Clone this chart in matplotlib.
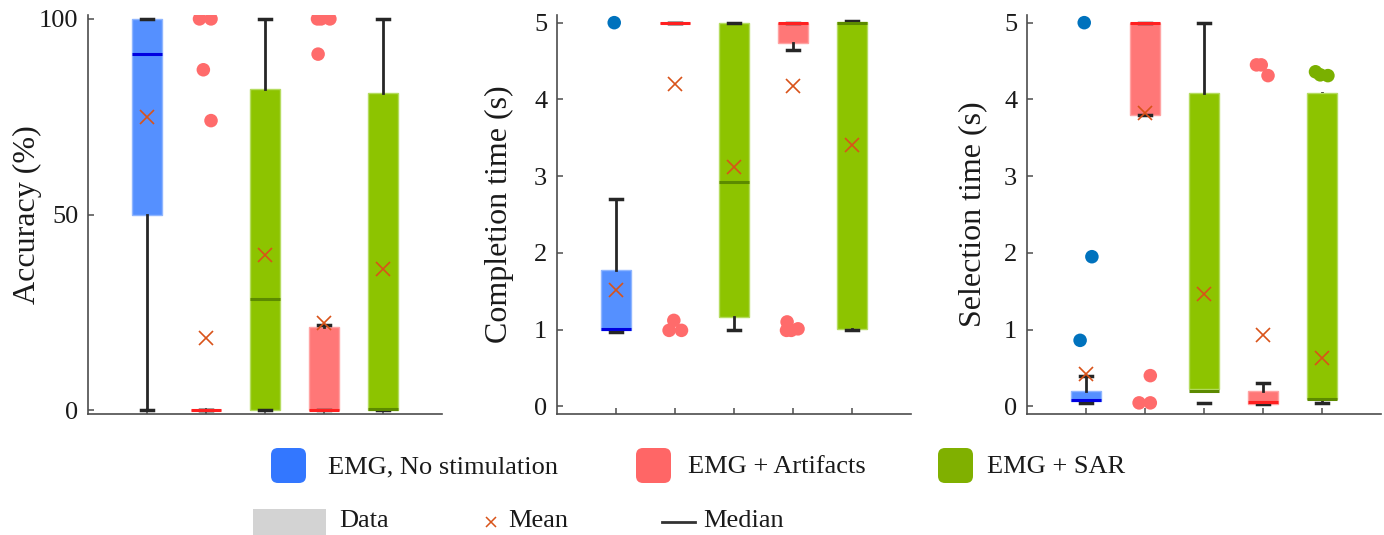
import matplotlib
matplotlib.use('Agg')
import matplotlib.pyplot as plt
from matplotlib.patches import FancyBboxPatch, Rectangle
from matplotlib.lines import Line2D

plt.rcParams['font.family'] = ['Liberation Serif', 'DejaVu Serif']

# groups in plotting order (1..5)
positions = [1, 2, 3, 4, 5]
group_of_box = [0, 1, 2, 1, 2]
legend_names = ['EMG, No stimulation', 'EMG + Artifacts', 'EMG + SAR']

# Accuracy (%)
acc_q1 = [50, 0, 0, 0, 0]
acc_med = [91, 0, 28.5, 0, 0.3]
acc_q3 = [100, 0, 82, 21.2, 81]
acc_lo = [0, 0, 0, 0, 0]
acc_hi = [100, 0, 100, 21.8, 100]
acc_mean = [75, 18.5, 39.6, 22.2, 36]
acc_fliers = [[], [100, 100, 87, 74], [], [100, 100, 100, 91], []]
acc_jitter = [[], [-0.11, 0.085, -0.045, 0.085], [], [-0.11, -0.05, 0.10, -0.10], []]

# Completion time (s)
ct_q1 = [1.0, 5.0, 1.17, 4.73, 1.01]
ct_med = [1.01, 5.0, 2.93, 5.0, 5.0]
ct_q3 = [1.78, 5.0, 4.99, 5.0, 5.01]
ct_lo = [0.97, 5.0, 1.0, 4.64, 0.99]
ct_hi = [2.70, 5.0, 5.0, 5.0, 5.02]
ct_mean = [1.51, 4.2, 3.12, 4.17, 3.41]
ct_fliers = [[5.0], [0.99, 1.12, 0.99], [], [0.99, 1.1, 1.01, 0.99], []]
ct_jitter = [[-0.03], [-0.10, -0.02, 0.11], [], [-0.11, -0.10, 0.085, -0.03], []]

# Selection time (s)
st_q1 = [0.065, 3.80, 0.23, 0.035, 0.09]
st_med = [0.08, 5.0, 0.20, 0.05, 0.09]
st_q3 = [0.2, 5.0, 4.08, 0.2, 4.08]
st_lo = [0.045, 3.80, 0.045, 0.035, 0.045]
st_hi = [0.40, 5.0, 5.0, 0.30, 4.0]
st_mean = [0.42, 3.82, 1.47, 0.93, 0.63]
st_fliers = [[5.0, 1.95, 0.86], [0.045, 0.045, 0.40], [], [4.45, 4.45, 4.31], [4.36, 4.32, 4.31]]
st_jitter = [[-0.03, 0.10, -0.10], [-0.10, 0.09, 0.09], [], [-0.11, -0.03, 0.085], [-0.11, -0.03, 0.10]]

box_colors = ['#5590FF', '#FF7777', '#8DC400']
box_edges = ['#8FB6FF', '#FFA3A3', '#B5DC60']
median_colors = ['#0000E0', '#FF2020', '#5C8A00']
flier_colors = ['#0072BD', '#FF6B6B', '#7AB000']
legend_colors = ['#3377FF', '#FF6666', '#80B000']
mean_color = '#D95319'

panels = [
    ('Accuracy (%)', acc_q1, acc_med, acc_q3, acc_lo, acc_hi, acc_mean, acc_fliers, acc_jitter,
     (-1, 101), [0, 50, 100]),
    ('Completion time (s)', ct_q1, ct_med, ct_q3, ct_lo, ct_hi, ct_mean, ct_fliers, ct_jitter,
     (-0.1, 5.1), [0, 1, 2, 3, 4, 5]),
    ('Selection time (s)', st_q1, st_med, st_q3, st_lo, st_hi, st_mean, st_fliers, st_jitter,
     (-0.1, 5.1), [0, 1, 2, 3, 4, 5]),
]

W, H = 1384, 535
fig = plt.figure(figsize=(W / 100, H / 100), dpi=100)

ax_left = [88, 557, 1027]
label_off = [-0.13, -0.122, -0.112]
for k, (ylabel, q1, med, q3, lo, hi, mean, fliers, jitter, ylim, yticks) in enumerate(panels):
    ax = fig.add_axes([ax_left[k] / W, (H - 414) / H, 354 / W, (414 - 15) / H])
    stats = []
    for i in range(5):
        stats.append(dict(med=med[i], q1=q1[i], q3=q3[i], whislo=lo[i], whishi=hi[i],
                          mean=mean[i], fliers=[]))
    bp = ax.bxp(stats, positions=positions, widths=0.5, patch_artist=True,
                showfliers=False, showmeans=True, capwidths=0.22, manage_ticks=False,
                whiskerprops=dict(color='#262626', lw=2),
                capprops=dict(color='#262626', lw=2.5),
                meanprops=dict(marker='x', markersize=10, markeredgewidth=1.2,
                               markeredgecolor=mean_color, linestyle='none'))
    for i in range(5):
        g = group_of_box[i]
        bp['boxes'][i].set_facecolor(box_colors[g])
        bp['boxes'][i].set_edgecolor(box_edges[g])
        bp['boxes'][i].set_linewidth(1.0)
        bp['medians'][i].set_color(median_colors[g])
        bp['medians'][i].set_linewidth(2.2)
        bp['medians'][i].set_zorder(2.5)
        bp['means'][i].set_zorder(4)
        if fliers[i]:
            xs = [positions[i] + j for j in jitter[i]]
            ax.scatter(xs, fliers[i], s=95, color=flier_colors[g], edgecolors='none', zorder=3)
    if k == 2:
        # in the original the SAR boxes hide their whisker lines here
        bp['whiskers'][4].set_visible(False)
        bp['whiskers'][9].set_zorder(1.5)
        bp['caps'][9].set_zorder(1.5)

    ax.set_xlim(0, 6)
    ax.set_ylim(*ylim)
    ax.set_yticks(yticks)
    ax.set_xticks(positions)
    ax.set_xticklabels([])
    ax.tick_params(direction='in', length=4, width=1.1, color='#4d4d4d',
                   labelsize=19, labelcolor='#1a1a1a', pad=7)
    for s in ['top', 'right']:
        ax.spines[s].set_visible(False)
    for s in ['left', 'bottom']:
        ax.spines[s].set_color('#4d4d4d')
        ax.spines[s].set_linewidth(1.2)
    ax.set_ylabel(ylabel, fontsize=23, color='#1a1a1a')
    ax.yaxis.set_label_coords(label_off[k], 0.5)

# legend, laid out in pixel space (inches = px / 100)
tr = fig.dpi_scale_trans


def yin(ypx):
    return (H - ypx) / 100


sq_x = [271, 636, 938]
txt_x = [328, 688, 987]
for c, sx, tx, name in zip(legend_colors, sq_x, txt_x, legend_names):
    fig.add_artist(FancyBboxPatch((sx / 100, yin(483)), 0.35, 0.35,
                                  boxstyle='round,pad=0,rounding_size=0.07',
                                  transform=tr, facecolor=c, edgecolor='none'))
    fig.text(tx / 100, yin(467), name, transform=tr, fontsize=19, va='center',
             ha='left', color='#1a1a1a')

fig.add_artist(Rectangle((253 / 100, yin(545)), 0.73, 0.36, transform=tr,
                         facecolor='#D3D3D3', edgecolor='none'))
fig.text(339 / 100, yin(521), 'Data', transform=tr, fontsize=19, va='center', color='#1a1a1a')
fig.add_artist(Line2D([491 / 100], [yin(522)], transform=tr, marker='x', markersize=7,
                      markeredgewidth=1.1, color=mean_color, linestyle='none'))
fig.text(508 / 100, yin(521), 'Mean', transform=tr, fontsize=19, va='center', color='#1a1a1a')
fig.add_artist(Line2D([662 / 100, 695 / 100], [yin(522), yin(522)], transform=tr,
                      color='#333333', lw=2))
fig.text(703 / 100, yin(521), 'Median', transform=tr, fontsize=19, va='center', color='#1a1a1a')

fig.savefig('out.png', dpi=100)
